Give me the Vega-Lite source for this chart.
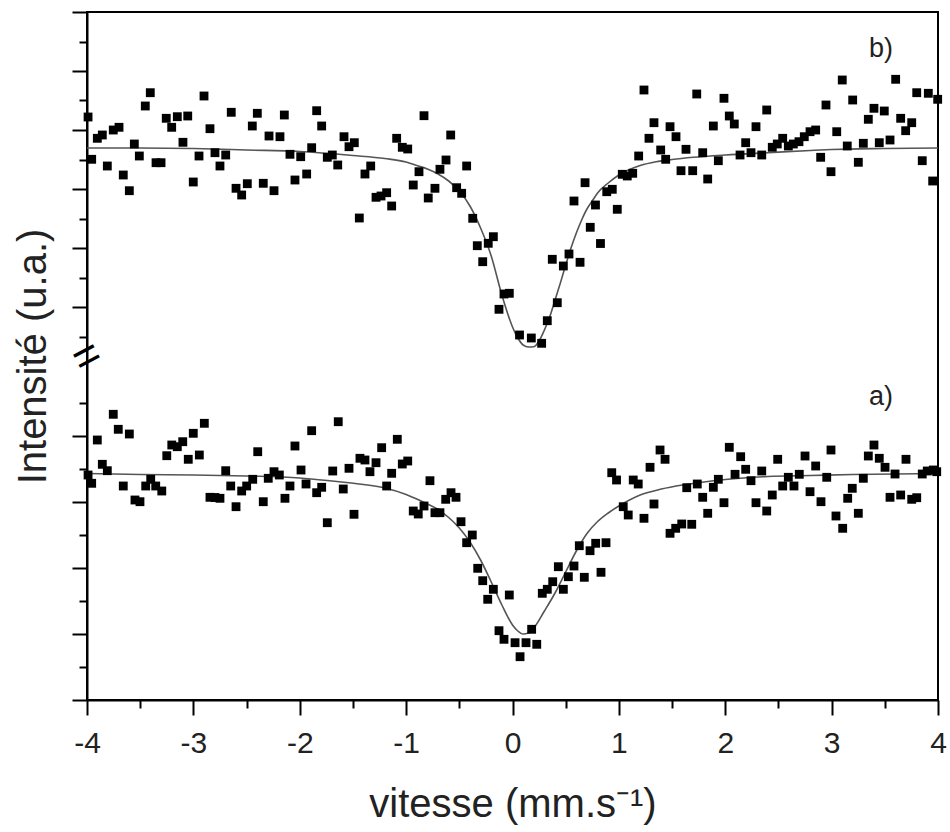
{
  "$schema": "https://vega.github.io/schema/vega-lite/v6.json",
  "width": 851,
  "height": 688,
  "autosize": "none",
  "padding": {"left": 87, "top": 12, "right": 12, "bottom": 132},
  "background": "white",
  "config": {
    "view": {"stroke": "black", "strokeWidth": 2},
    "font": "Liberation Sans",
    "axis": {"grid": false, "domainColor": "black", "domainWidth": 2, "tickColor": "black", "tickWidth": 2, "labelColor": "#222", "titleColor": "#222", "titleFontWeight": "normal", "labelFont": "Liberation Sans", "titleFont": "Liberation Sans"}
  },
  "datasets": {
    "points": [
      {"spectre": "b", "v": -3.99, "y": 583},
      {"spectre": "b", "v": -3.956, "y": 540.7},
      {"spectre": "b", "v": -3.903, "y": 561.7},
      {"spectre": "b", "v": -3.856, "y": 565},
      {"spectre": "b", "v": -3.809, "y": 534},
      {"spectre": "b", "v": -3.753, "y": 570},
      {"spectre": "b", "v": -3.699, "y": 572.7},
      {"spectre": "b", "v": -3.659, "y": 525},
      {"spectre": "b", "v": -3.602, "y": 509.3},
      {"spectre": "b", "v": -3.555, "y": 556},
      {"spectre": "b", "v": -3.508, "y": 544},
      {"spectre": "b", "v": -3.452, "y": 594},
      {"spectre": "b", "v": -3.405, "y": 607.3},
      {"spectre": "b", "v": -3.351, "y": 537.3},
      {"spectre": "b", "v": -3.304, "y": 537.3},
      {"spectre": "b", "v": -3.255, "y": 581.7},
      {"spectre": "b", "v": -3.204, "y": 572.7},
      {"spectre": "b", "v": -3.151, "y": 583.3},
      {"spectre": "b", "v": -3.098, "y": 557.7},
      {"spectre": "b", "v": -3.053, "y": 584},
      {"spectre": "b", "v": -3.001, "y": 518},
      {"spectre": "b", "v": -2.947, "y": 544},
      {"spectre": "b", "v": -2.9, "y": 604},
      {"spectre": "b", "v": -2.844, "y": 571.3},
      {"spectre": "b", "v": -2.797, "y": 547.3},
      {"spectre": "b", "v": -2.75, "y": 534},
      {"spectre": "b", "v": -2.696, "y": 545},
      {"spectre": "b", "v": -2.644, "y": 587.7},
      {"spectre": "b", "v": -2.599, "y": 511.7},
      {"spectre": "b", "v": -2.546, "y": 505},
      {"spectre": "b", "v": -2.493, "y": 516.3},
      {"spectre": "b", "v": -2.446, "y": 574},
      {"spectre": "b", "v": -2.399, "y": 586.7},
      {"spectre": "b", "v": -2.343, "y": 516.7},
      {"spectre": "b", "v": -2.289, "y": 564},
      {"spectre": "b", "v": -2.242, "y": 509.3},
      {"spectre": "b", "v": -2.186, "y": 563.3},
      {"spectre": "b", "v": -2.145, "y": 585},
      {"spectre": "b", "v": -2.092, "y": 545.7},
      {"spectre": "b", "v": -2.045, "y": 520},
      {"spectre": "b", "v": -1.991, "y": 543.3},
      {"spectre": "b", "v": -1.935, "y": 526},
      {"spectre": "b", "v": -1.888, "y": 552.3},
      {"spectre": "b", "v": -1.841, "y": 589.3},
      {"spectre": "b", "v": -1.794, "y": 574},
      {"spectre": "b", "v": -1.741, "y": 542.7},
      {"spectre": "b", "v": -1.694, "y": 545},
      {"spectre": "b", "v": -1.643, "y": 535},
      {"spectre": "b", "v": -1.584, "y": 563.3},
      {"spectre": "b", "v": -1.537, "y": 553.3},
      {"spectre": "b", "v": -1.487, "y": 557.3},
      {"spectre": "b", "v": -1.44, "y": 482},
      {"spectre": "b", "v": -1.387, "y": 526},
      {"spectre": "b", "v": -1.333, "y": 534},
      {"spectre": "b", "v": -1.283, "y": 502.7},
      {"spectre": "b", "v": -1.236, "y": 504},
      {"spectre": "b", "v": -1.183, "y": 507.3},
      {"spectre": "b", "v": -1.136, "y": 494},
      {"spectre": "b", "v": -1.089, "y": 561.7},
      {"spectre": "b", "v": -1.036, "y": 552.7},
      {"spectre": "b", "v": -0.985, "y": 551},
      {"spectre": "b", "v": -0.933, "y": 515},
      {"spectre": "b", "v": -0.879, "y": 528.3},
      {"spectre": "b", "v": -0.832, "y": 584.3},
      {"spectre": "b", "v": -0.792, "y": 502},
      {"spectre": "b", "v": -0.729, "y": 511.7},
      {"spectre": "b", "v": -0.682, "y": 530.7},
      {"spectre": "b", "v": -0.625, "y": 540},
      {"spectre": "b", "v": -0.581, "y": 565},
      {"spectre": "b", "v": -0.525, "y": 512.3},
      {"spectre": "b", "v": -0.478, "y": 506.7},
      {"spectre": "b", "v": -0.431, "y": 534},
      {"spectre": "b", "v": -0.374, "y": 481.7},
      {"spectre": "b", "v": -0.331, "y": 454.3},
      {"spectre": "b", "v": -0.28, "y": 438.3},
      {"spectre": "b", "v": -0.228, "y": 456.7},
      {"spectre": "b", "v": -0.18, "y": 463.3},
      {"spectre": "b", "v": -0.127, "y": 390.7},
      {"spectre": "b", "v": -0.08, "y": 406},
      {"spectre": "b", "v": -0.03, "y": 406.7},
      {"spectre": "b", "v": 0.066, "y": 365},
      {"spectre": "b", "v": 0.177, "y": 362},
      {"spectre": "b", "v": 0.274, "y": 356.7},
      {"spectre": "b", "v": 0.327, "y": 379.3},
      {"spectre": "b", "v": 0.374, "y": 440.7},
      {"spectre": "b", "v": 0.421, "y": 397.3},
      {"spectre": "b", "v": 0.478, "y": 434},
      {"spectre": "b", "v": 0.531, "y": 446},
      {"spectre": "b", "v": 0.578, "y": 499},
      {"spectre": "b", "v": 0.635, "y": 437.7},
      {"spectre": "b", "v": 0.682, "y": 517.3},
      {"spectre": "b", "v": 0.731, "y": 472.7},
      {"spectre": "b", "v": 0.78, "y": 495},
      {"spectre": "b", "v": 0.827, "y": 456.5},
      {"spectre": "b", "v": 0.886, "y": 508.3},
      {"spectre": "b", "v": 0.938, "y": 510.7},
      {"spectre": "b", "v": 0.985, "y": 490.7},
      {"spectre": "b", "v": 1.032, "y": 525.7},
      {"spectre": "b", "v": 1.079, "y": 524},
      {"spectre": "b", "v": 1.13, "y": 526.7},
      {"spectre": "b", "v": 1.186, "y": 544},
      {"spectre": "b", "v": 1.236, "y": 610},
      {"spectre": "b", "v": 1.283, "y": 561.7},
      {"spectre": "b", "v": 1.33, "y": 577.3},
      {"spectre": "b", "v": 1.393, "y": 550},
      {"spectre": "b", "v": 1.44, "y": 540.7},
      {"spectre": "b", "v": 1.481, "y": 573.3},
      {"spectre": "b", "v": 1.537, "y": 563.3},
      {"spectre": "b", "v": 1.584, "y": 529.3},
      {"spectre": "b", "v": 1.631, "y": 550.7},
      {"spectre": "b", "v": 1.694, "y": 529.3},
      {"spectre": "b", "v": 1.732, "y": 606},
      {"spectre": "b", "v": 1.788, "y": 547.3},
      {"spectre": "b", "v": 1.835, "y": 521},
      {"spectre": "b", "v": 1.888, "y": 574},
      {"spectre": "b", "v": 1.935, "y": 539.3},
      {"spectre": "b", "v": 1.988, "y": 601.7},
      {"spectre": "b", "v": 2.038, "y": 584},
      {"spectre": "b", "v": 2.085, "y": 576},
      {"spectre": "b", "v": 2.139, "y": 545},
      {"spectre": "b", "v": 2.192, "y": 557.3},
      {"spectre": "b", "v": 2.242, "y": 547.3},
      {"spectre": "b", "v": 2.289, "y": 573.3},
      {"spectre": "b", "v": 2.343, "y": 545},
      {"spectre": "b", "v": 2.39, "y": 590},
      {"spectre": "b", "v": 2.442, "y": 552.7},
      {"spectre": "b", "v": 2.489, "y": 556},
      {"spectre": "b", "v": 2.54, "y": 561.7},
      {"spectre": "b", "v": 2.593, "y": 554},
      {"spectre": "b", "v": 2.64, "y": 556},
      {"spectre": "b", "v": 2.693, "y": 558.3},
      {"spectre": "b", "v": 2.743, "y": 563.3},
      {"spectre": "b", "v": 2.797, "y": 568.3},
      {"spectre": "b", "v": 2.85, "y": 570},
      {"spectre": "b", "v": 2.897, "y": 542.7},
      {"spectre": "b", "v": 2.947, "y": 595},
      {"spectre": "b", "v": 2.994, "y": 528.3},
      {"spectre": "b", "v": 3.048, "y": 568.3},
      {"spectre": "b", "v": 3.1, "y": 620},
      {"spectre": "b", "v": 3.147, "y": 554},
      {"spectre": "b", "v": 3.198, "y": 600},
      {"spectre": "b", "v": 3.251, "y": 537.7},
      {"spectre": "b", "v": 3.298, "y": 556.7},
      {"spectre": "b", "v": 3.345, "y": 580.7},
      {"spectre": "b", "v": 3.398, "y": 591.7},
      {"spectre": "b", "v": 3.448, "y": 557.3},
      {"spectre": "b", "v": 3.495, "y": 589},
      {"spectre": "b", "v": 3.549, "y": 560},
      {"spectre": "b", "v": 3.602, "y": 620.7},
      {"spectre": "b", "v": 3.649, "y": 581.7},
      {"spectre": "b", "v": 3.696, "y": 569.3},
      {"spectre": "b", "v": 3.753, "y": 577.3},
      {"spectre": "b", "v": 3.8, "y": 607.3},
      {"spectre": "b", "v": 3.852, "y": 539.3},
      {"spectre": "b", "v": 3.909, "y": 606.7},
      {"spectre": "b", "v": 3.95, "y": 519},
      {"spectre": "b", "v": 3.997, "y": 600.7},
      {"spectre": "a", "v": -3.99, "y": 225},
      {"spectre": "a", "v": -3.956, "y": 216.7},
      {"spectre": "a", "v": -3.903, "y": 260},
      {"spectre": "a", "v": -3.856, "y": 235.7},
      {"spectre": "a", "v": -3.809, "y": 229.3},
      {"spectre": "a", "v": -3.753, "y": 285.7},
      {"spectre": "a", "v": -3.706, "y": 270.7},
      {"spectre": "a", "v": -3.659, "y": 214},
      {"spectre": "a", "v": -3.602, "y": 266},
      {"spectre": "a", "v": -3.549, "y": 200},
      {"spectre": "a", "v": -3.502, "y": 198.3},
      {"spectre": "a", "v": -3.448, "y": 214},
      {"spectre": "a", "v": -3.401, "y": 220.7},
      {"spectre": "a", "v": -3.354, "y": 214},
      {"spectre": "a", "v": -3.297, "y": 209},
      {"spectre": "a", "v": -3.25, "y": 244.3},
      {"spectre": "a", "v": -3.203, "y": 255},
      {"spectre": "a", "v": -3.151, "y": 253.3},
      {"spectre": "a", "v": -3.1, "y": 258.3},
      {"spectre": "a", "v": -3.048, "y": 240.7},
      {"spectre": "a", "v": -3.001, "y": 266.7},
      {"spectre": "a", "v": -2.944, "y": 245},
      {"spectre": "a", "v": -2.897, "y": 276.7},
      {"spectre": "a", "v": -2.844, "y": 202.7},
      {"spectre": "a", "v": -2.797, "y": 202.5},
      {"spectre": "a", "v": -2.75, "y": 201.7},
      {"spectre": "a", "v": -2.696, "y": 229.3},
      {"spectre": "a", "v": -2.649, "y": 214},
      {"spectre": "a", "v": -2.599, "y": 193.3},
      {"spectre": "a", "v": -2.546, "y": 209},
      {"spectre": "a", "v": -2.499, "y": 214},
      {"spectre": "a", "v": -2.442, "y": 220.7},
      {"spectre": "a", "v": -2.395, "y": 248.3},
      {"spectre": "a", "v": -2.343, "y": 198.3},
      {"spectre": "a", "v": -2.296, "y": 221.7},
      {"spectre": "a", "v": -2.242, "y": 228.3},
      {"spectre": "a", "v": -2.192, "y": 225},
      {"spectre": "a", "v": -2.139, "y": 201.7},
      {"spectre": "a", "v": -2.092, "y": 214},
      {"spectre": "a", "v": -2.045, "y": 254},
      {"spectre": "a", "v": -1.988, "y": 230},
      {"spectre": "a", "v": -1.941, "y": 216},
      {"spectre": "a", "v": -1.888, "y": 269.3},
      {"spectre": "a", "v": -1.841, "y": 207.3},
      {"spectre": "a", "v": -1.794, "y": 212.7},
      {"spectre": "a", "v": -1.741, "y": 177.3},
      {"spectre": "a", "v": -1.69, "y": 229},
      {"spectre": "a", "v": -1.638, "y": 278.3},
      {"spectre": "a", "v": -1.591, "y": 211},
      {"spectre": "a", "v": -1.537, "y": 231.7},
      {"spectre": "a", "v": -1.49, "y": 185.7},
      {"spectre": "a", "v": -1.434, "y": 241.7},
      {"spectre": "a", "v": -1.387, "y": 240},
      {"spectre": "a", "v": -1.34, "y": 228.3},
      {"spectre": "a", "v": -1.283, "y": 237.3},
      {"spectre": "a", "v": -1.23, "y": 252.3},
      {"spectre": "a", "v": -1.183, "y": 214},
      {"spectre": "a", "v": -1.136, "y": 226.7},
      {"spectre": "a", "v": -1.083, "y": 260.7},
      {"spectre": "a", "v": -1.036, "y": 236},
      {"spectre": "a", "v": -0.985, "y": 239},
      {"spectre": "a", "v": -0.933, "y": 189},
      {"spectre": "a", "v": -0.886, "y": 186},
      {"spectre": "a", "v": -0.832, "y": 194},
      {"spectre": "a", "v": -0.776, "y": 219.3},
      {"spectre": "a", "v": -0.729, "y": 187.3},
      {"spectre": "a", "v": -0.682, "y": 187.3},
      {"spectre": "a", "v": -0.628, "y": 200.7},
      {"spectre": "a", "v": -0.578, "y": 207.3},
      {"spectre": "a", "v": -0.531, "y": 202.7},
      {"spectre": "a", "v": -0.484, "y": 178.3},
      {"spectre": "a", "v": -0.431, "y": 157.3},
      {"spectre": "a", "v": -0.378, "y": 165},
      {"spectre": "a", "v": -0.327, "y": 131.7},
      {"spectre": "a", "v": -0.28, "y": 119.3},
      {"spectre": "a", "v": -0.233, "y": 100.7},
      {"spectre": "a", "v": -0.18, "y": 110.7},
      {"spectre": "a", "v": -0.127, "y": 69.3},
      {"spectre": "a", "v": -0.08, "y": 60.7},
      {"spectre": "a", "v": -0.03, "y": 105},
      {"spectre": "a", "v": 0.024, "y": 57.3},
      {"spectre": "a", "v": 0.071, "y": 43.3},
      {"spectre": "a", "v": 0.127, "y": 57.3},
      {"spectre": "a", "v": 0.18, "y": 70.7},
      {"spectre": "a", "v": 0.228, "y": 55.7},
      {"spectre": "a", "v": 0.28, "y": 106.7},
      {"spectre": "a", "v": 0.327, "y": 110.7},
      {"spectre": "a", "v": 0.378, "y": 118.3},
      {"spectre": "a", "v": 0.431, "y": 133.3},
      {"spectre": "a", "v": 0.478, "y": 110.7},
      {"spectre": "a", "v": 0.525, "y": 123.3},
      {"spectre": "a", "v": 0.578, "y": 134},
      {"spectre": "a", "v": 0.628, "y": 154.3},
      {"spectre": "a", "v": 0.675, "y": 122.7},
      {"spectre": "a", "v": 0.729, "y": 149.3},
      {"spectre": "a", "v": 0.782, "y": 156.7},
      {"spectre": "a", "v": 0.832, "y": 127.7},
      {"spectre": "a", "v": 0.879, "y": 157.3},
      {"spectre": "a", "v": 0.933, "y": 227.3},
      {"spectre": "a", "v": 0.978, "y": 220},
      {"spectre": "a", "v": 1.041, "y": 193.3},
      {"spectre": "a", "v": 1.088, "y": 185},
      {"spectre": "a", "v": 1.135, "y": 220},
      {"spectre": "a", "v": 1.182, "y": 216},
      {"spectre": "a", "v": 1.236, "y": 181.7},
      {"spectre": "a", "v": 1.293, "y": 232.7},
      {"spectre": "a", "v": 1.33, "y": 196},
      {"spectre": "a", "v": 1.387, "y": 250},
      {"spectre": "a", "v": 1.434, "y": 240.7},
      {"spectre": "a", "v": 1.481, "y": 166.7},
      {"spectre": "a", "v": 1.534, "y": 171.7},
      {"spectre": "a", "v": 1.591, "y": 176},
      {"spectre": "a", "v": 1.638, "y": 212.3},
      {"spectre": "a", "v": 1.685, "y": 175.7},
      {"spectre": "a", "v": 1.737, "y": 216},
      {"spectre": "a", "v": 1.788, "y": 202.7},
      {"spectre": "a", "v": 1.835, "y": 186.7},
      {"spectre": "a", "v": 1.888, "y": 212.7},
      {"spectre": "a", "v": 1.935, "y": 220.7},
      {"spectre": "a", "v": 1.988, "y": 197.3},
      {"spectre": "a", "v": 2.038, "y": 252.7},
      {"spectre": "a", "v": 2.092, "y": 225.7},
      {"spectre": "a", "v": 2.145, "y": 243.3},
      {"spectre": "a", "v": 2.192, "y": 230.7},
      {"spectre": "a", "v": 2.242, "y": 219.3},
      {"spectre": "a", "v": 2.289, "y": 197.3},
      {"spectre": "a", "v": 2.343, "y": 229},
      {"spectre": "a", "v": 2.39, "y": 189},
      {"spectre": "a", "v": 2.442, "y": 205},
      {"spectre": "a", "v": 2.493, "y": 240.7},
      {"spectre": "a", "v": 2.54, "y": 214},
      {"spectre": "a", "v": 2.593, "y": 222.7},
      {"spectre": "a", "v": 2.646, "y": 214},
      {"spectre": "a", "v": 2.696, "y": 225.7},
      {"spectre": "a", "v": 2.75, "y": 244},
      {"spectre": "a", "v": 2.797, "y": 208.3},
      {"spectre": "a", "v": 2.85, "y": 234},
      {"spectre": "a", "v": 2.9, "y": 198.3},
      {"spectre": "a", "v": 2.954, "y": 222.7},
      {"spectre": "a", "v": 2.994, "y": 250},
      {"spectre": "a", "v": 3.041, "y": 184},
      {"spectre": "a", "v": 3.104, "y": 171.7},
      {"spectre": "a", "v": 3.151, "y": 201.7},
      {"spectre": "a", "v": 3.194, "y": 211.7},
      {"spectre": "a", "v": 3.251, "y": 186.7},
      {"spectre": "a", "v": 3.298, "y": 221.7},
      {"spectre": "a", "v": 3.345, "y": 244},
      {"spectre": "a", "v": 3.398, "y": 255},
      {"spectre": "a", "v": 3.448, "y": 241.7},
      {"spectre": "a", "v": 3.502, "y": 232.7},
      {"spectre": "a", "v": 3.549, "y": 202.7},
      {"spectre": "a", "v": 3.596, "y": 226},
      {"spectre": "a", "v": 3.649, "y": 205},
      {"spectre": "a", "v": 3.699, "y": 240.7},
      {"spectre": "a", "v": 3.753, "y": 200.7},
      {"spectre": "a", "v": 3.8, "y": 202.3},
      {"spectre": "a", "v": 3.852, "y": 226},
      {"spectre": "a", "v": 3.899, "y": 229},
      {"spectre": "a", "v": 3.956, "y": 230},
      {"spectre": "a", "v": 3.988, "y": 228.3}
    ],
    "fit": [
      {"spectre": "b", "v": -4.0, "y": 552},
      {"spectre": "b", "v": -3.5, "y": 552},
      {"spectre": "b", "v": -3.0, "y": 551.5},
      {"spectre": "b", "v": -2.5, "y": 550},
      {"spectre": "b", "v": -2.0, "y": 548.5},
      {"spectre": "b", "v": -1.5, "y": 544.5},
      {"spectre": "b", "v": -1.2, "y": 541.5},
      {"spectre": "b", "v": -1.0, "y": 538},
      {"spectre": "b", "v": -0.9, "y": 534.5},
      {"spectre": "b", "v": -0.8, "y": 531},
      {"spectre": "b", "v": -0.7, "y": 526},
      {"spectre": "b", "v": -0.6, "y": 519},
      {"spectre": "b", "v": -0.5, "y": 509},
      {"spectre": "b", "v": -0.4, "y": 494},
      {"spectre": "b", "v": -0.3, "y": 472},
      {"spectre": "b", "v": -0.2, "y": 444},
      {"spectre": "b", "v": -0.1, "y": 405},
      {"spectre": "b", "v": 0.0, "y": 373},
      {"spectre": "b", "v": 0.05, "y": 362},
      {"spectre": "b", "v": 0.1, "y": 355},
      {"spectre": "b", "v": 0.15, "y": 353},
      {"spectre": "b", "v": 0.2, "y": 353.3},
      {"spectre": "b", "v": 0.25, "y": 359},
      {"spectre": "b", "v": 0.3, "y": 370},
      {"spectre": "b", "v": 0.35, "y": 383.3},
      {"spectre": "b", "v": 0.4, "y": 400},
      {"spectre": "b", "v": 0.45, "y": 417},
      {"spectre": "b", "v": 0.5, "y": 435},
      {"spectre": "b", "v": 0.55, "y": 452},
      {"spectre": "b", "v": 0.6, "y": 467},
      {"spectre": "b", "v": 0.65, "y": 480},
      {"spectre": "b", "v": 0.7, "y": 491},
      {"spectre": "b", "v": 0.75, "y": 499},
      {"spectre": "b", "v": 0.8, "y": 507},
      {"spectre": "b", "v": 0.9, "y": 517},
      {"spectre": "b", "v": 1.0, "y": 525},
      {"spectre": "b", "v": 1.1, "y": 530.5},
      {"spectre": "b", "v": 1.2, "y": 534.5},
      {"spectre": "b", "v": 1.35, "y": 538.3},
      {"spectre": "b", "v": 1.5, "y": 540.5},
      {"spectre": "b", "v": 1.7, "y": 542.7},
      {"spectre": "b", "v": 2.0, "y": 545},
      {"spectre": "b", "v": 2.4, "y": 547.3},
      {"spectre": "b", "v": 2.8, "y": 549.5},
      {"spectre": "b", "v": 3.0, "y": 550.5},
      {"spectre": "b", "v": 3.5, "y": 551.5},
      {"spectre": "b", "v": 4.0, "y": 552},
      {"spectre": "a", "v": -4.0, "y": 226.5},
      {"spectre": "a", "v": -3.5, "y": 225.5},
      {"spectre": "a", "v": -3.0, "y": 225},
      {"spectre": "a", "v": -2.5, "y": 224},
      {"spectre": "a", "v": -2.0, "y": 222},
      {"spectre": "a", "v": -1.7, "y": 219},
      {"spectre": "a", "v": -1.4, "y": 215.5},
      {"spectre": "a", "v": -1.2, "y": 212},
      {"spectre": "a", "v": -1.0, "y": 205.5},
      {"spectre": "a", "v": -0.9, "y": 201},
      {"spectre": "a", "v": -0.8, "y": 196},
      {"spectre": "a", "v": -0.7, "y": 190.5},
      {"spectre": "a", "v": -0.6, "y": 182.5},
      {"spectre": "a", "v": -0.5, "y": 172},
      {"spectre": "a", "v": -0.4, "y": 158},
      {"spectre": "a", "v": -0.3, "y": 140},
      {"spectre": "a", "v": -0.2, "y": 118},
      {"spectre": "a", "v": -0.1, "y": 95},
      {"spectre": "a", "v": 0.0, "y": 75},
      {"spectre": "a", "v": 0.05, "y": 69},
      {"spectre": "a", "v": 0.1, "y": 66},
      {"spectre": "a", "v": 0.15, "y": 67},
      {"spectre": "a", "v": 0.2, "y": 72},
      {"spectre": "a", "v": 0.3, "y": 89},
      {"spectre": "a", "v": 0.4, "y": 107},
      {"spectre": "a", "v": 0.5, "y": 128},
      {"spectre": "a", "v": 0.6, "y": 149},
      {"spectre": "a", "v": 0.7, "y": 166.5},
      {"spectre": "a", "v": 0.8, "y": 178.5},
      {"spectre": "a", "v": 0.9, "y": 187},
      {"spectre": "a", "v": 1.0, "y": 194},
      {"spectre": "a", "v": 1.1, "y": 200},
      {"spectre": "a", "v": 1.2, "y": 205},
      {"spectre": "a", "v": 1.4, "y": 211},
      {"spectre": "a", "v": 1.6, "y": 215},
      {"spectre": "a", "v": 1.8, "y": 218},
      {"spectre": "a", "v": 2.0, "y": 220.5},
      {"spectre": "a", "v": 2.4, "y": 223.5},
      {"spectre": "a", "v": 2.8, "y": 224.5},
      {"spectre": "a", "v": 3.2, "y": 225.5},
      {"spectre": "a", "v": 3.6, "y": 226},
      {"spectre": "a", "v": 4.0, "y": 226.5}
    ],
    "labels": [
      {"label": "b)", "v": 3.464, "y": 651},
      {"label": "a)", "v": 3.464, "y": 303}
    ],
    "breaks": [
      {"label": "=", "v": -4, "y": 343}
    ]
  },
  "layer": [
    {
      "data": {"name": "fit"},
      "mark": {"type": "line", "color": "#555555", "strokeWidth": 1.6, "interpolate": "monotone"},
      "encoding": {
        "x": {"field": "v", "type": "quantitative", "scale": {"domain": [-4, 4], "nice": false, "zero": false},
          "axis": {
            "title": "vitesse (mm.s⁻¹)",
            "values": [-4, -3.5, -3, -2.5, -2, -1.5, -1, -0.5, 0, 0.5, 1, 1.5, 2, 2.5, 3, 3.5, 4],
            "tickCount": 100,
            "labelExpr": "datum.value % 1 === 0 ? '' + datum.value : ''",
            "labelFontSize": 30,
            "labelPadding": 13,
            "labelFlush": false,
            "labelOverlap": false,
            "tickSize": {"condition": {"test": "datum.value % 1 === 0", "value": 15}, "value": 8},
            "titleFontSize": 40,
            "titleX": 425.5,
            "titleY": 116,
            "titleBaseline": "alphabetic",
            "titleAlign": "center"
          }
        },
        "y": {"field": "y", "type": "quantitative", "scale": {"domain": [0, 688], "nice": false, "zero": false},
          "axis": {
            "title": "Intensité (u.a.)",
            "values": [0, 33, 66, 99, 132, 165, 198, 231, 264, 297, 363.5, 393, 422.5, 452, 481.5, 511, 540.5, 570, 599.5, 629, 658.5, 688],
            "tickCount": 100,
            "labels": false,
            "tickSize": {"condition": {"test": "indexof([0, 66, 132, 198, 264, 393, 452, 511, 570, 629, 688], datum.value) >= 0", "value": 15}, "value": 8},
            "titleFontSize": 40,
            "titleX": -42,
            "titleY": 344,
            "titleAngle": -90,
            "titleBaseline": "alphabetic",
            "titleAlign": "center"
          }
        },
        "detail": {"field": "spectre"}
      }
    },
    {
      "data": {"name": "points"},
      "mark": {"type": "point", "shape": "square", "filled": true, "color": "black", "size": 78, "opacity": 1},
      "encoding": {
        "x": {"field": "v", "type": "quantitative"},
        "y": {"field": "y", "type": "quantitative"}
      }
    },
    {
      "data": {"name": "labels"},
      "mark": {"type": "text", "fontSize": 27, "color": "#222", "align": "center", "baseline": "middle", "font": "Liberation Sans"},
      "encoding": {
        "x": {"field": "v", "type": "quantitative"},
        "y": {"field": "y", "type": "quantitative"},
        "text": {"field": "label"}
      }
    },
    {
      "data": {"name": "breaks"},
      "mark": {"type": "text", "fontSize": 46, "color": "black", "align": "center", "baseline": "middle", "angle": -28, "font": "Liberation Sans"},
      "encoding": {
        "x": {"field": "v", "type": "quantitative"},
        "y": {"field": "y", "type": "quantitative"},
        "text": {"field": "label"}
      }
    }
  ]
}
